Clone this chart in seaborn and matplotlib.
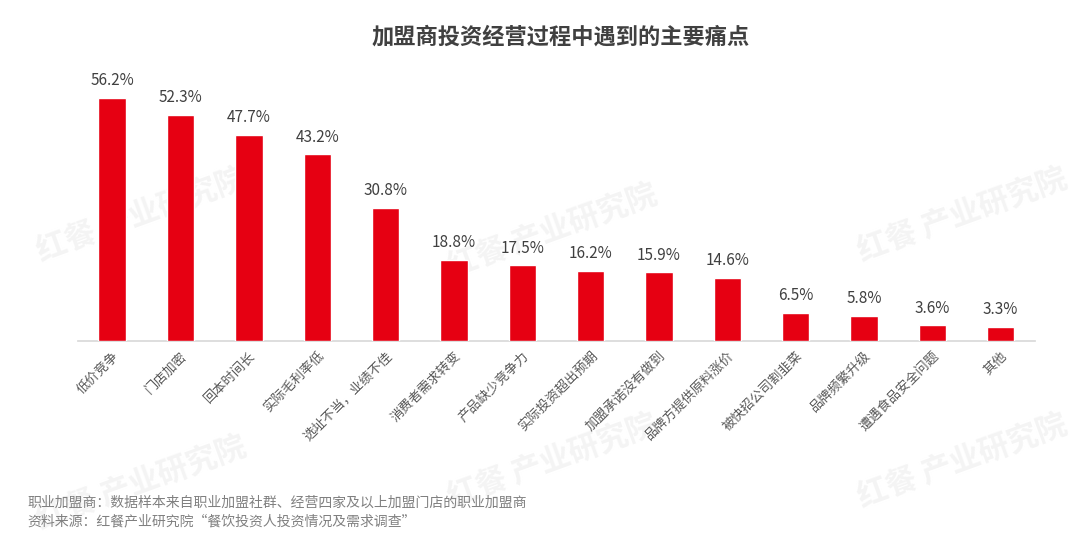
import matplotlib
matplotlib.use("Agg")
import matplotlib.pyplot as plt
import pandas as pd
import seaborn as sns

categories = ["低价竞争", "门店加密", "回本时间长", "实际毛利率低", "选址不当，业绩不佳",
              "消费者需求转变", "产品缺少竞争力", "实际投资超出预期", "加盟承诺没有做到",
              "品牌方提供原料涨价", "被快招公司割韭菜", "品牌频繁升级", "遭遇食品安全问题", "其他"]
values = [56.2, 52.3, 47.7, 43.2, 30.8, 18.8, 17.5, 16.2, 15.9, 14.6, 6.5, 5.8, 3.6, 3.3]

title = "加盟商投资经营过程中遇到的主要痛点"
notes = ["职业加盟商：数据样本来自职业加盟社群、经营四家及以上加盟门店的职业加盟商",
         "资料来源：红餐产业研究院“餐饮投资人投资情况及需求调查”"]

sns.set_theme(style="white")
plt.rcParams["font.family"] = ["Noto Sans CJK SC", "DejaVu Sans"]

df = pd.DataFrame({"cat": categories, "val": values})

fig = plt.figure(figsize=(10.8, 5.36), dpi=100)
ax = fig.add_axes([0.0722, 0.364, 0.886, 0.524])
ax.set_zorder(2)

# faint watermarks behind the chart
for (x, y) in [(0.03, 0.60), (0.41, 0.57), (0.79, 0.60), (0.03, 0.10), (0.41, 0.14), (0.79, 0.14)]:
    fig.text(x, y, "红餐 产业研究院", fontsize=22, fontweight="bold", color="#f4f4f4",
             rotation=20, ha="left", va="center", zorder=0)

sns.barplot(data=df, x="cat", y="val", color="#e60012", width=0.4, ax=ax, saturation=1, zorder=3)

for i, v in enumerate(values):
    ax.text(i, v + 2.0, f"{v}%", ha="center", va="bottom", fontsize=11, color="#404040")

ax.set_xlim(-0.5, len(categories) - 0.5)
ax.set_ylim(0, 65)
ax.set_xlabel("")
ax.set_ylabel("")
ax.set_yticks([])
ax.set_xticks(range(len(categories)))
ax.set_xticklabels(categories, rotation=45, ha="right", rotation_mode="anchor",
                   fontsize=9.5, color="#595959")
ax.tick_params(axis="x", length=0, pad=6)
for s in ["top", "right", "left"]:
    ax.spines[s].set_visible(False)
ax.spines["bottom"].set_color("#d9d9d9")
ax.patch.set_alpha(0)

fig.text(0.519, 0.93, title, ha="center", va="center", fontsize=16, fontweight="bold",
         color="#404040", zorder=3)
fig.text(0.025, 0.062, notes[0], ha="left", va="center", fontsize=10, color="#808080", zorder=3)
fig.text(0.025, 0.028, notes[1], ha="left", va="center", fontsize=10, color="#808080", zorder=3)

fig.savefig("out.png", dpi=100)
